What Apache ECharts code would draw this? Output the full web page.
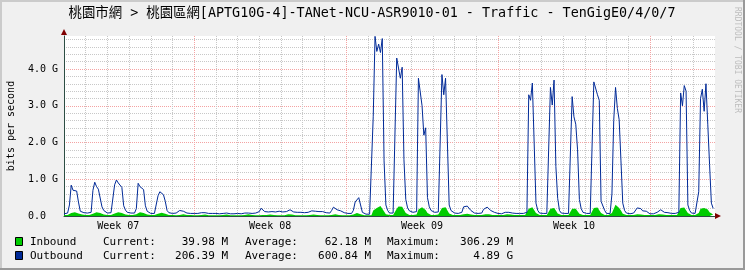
<!DOCTYPE html>
<html><head><meta charset="utf-8">
<script src="https://cdn.jsdelivr.net/npm/echarts@6/dist/echarts.min.js"></script>
<style>html,body{margin:0;padding:0;background:#F0F0F0}#c{width:745px;height:270px}</style>
</head><body><div id="c"></div><script>
// ---- chart text ----
const titleText = '桃園市網 > 桃園區網[APTG10G-4]-TANet-NCU-ASR9010-01 - Traffic - TenGigE0/4/0/7';
const yAxisName = 'bits per second';
const watermark = 'RRDTOOL / TOBI OETIKER';
// ---- x axis (hours from start of a 30-day window) ----
const weekLabels = ['Week 07', 'Week 08', 'Week 09', 'Week 10'];
const weekLabelHours = [60, 228, 396, 564];
const weekStartHours = [144, 312, 480, 648];
const stepHours = 2;
// ---- y axis (G bits/s) ----
const yMax = 4.9;
const yTickValues = [0, 1, 2, 3, 4];
const yTickLabels = ['0.0  ', '1.0 G', '2.0 G', '3.0 G', '4.0 G'];
// ---- series values, Gbit/s, one value per 2 hours, 12 per day ----
const inbound = [
  .03,.03,.03,.04,.08,.10,.10,.09,.07,.05,.04,.03,
  .03,.03,.03,.03,.06,.09,.10,.09,.08,.06,.04,.03,
  .03,.03,.03,.03,.07,.09,.10,.09,.08,.05,.04,.03,
  .03,.03,.03,.03,.05,.09,.10,.09,.08,.05,.04,.03,
  .03,.03,.03,.03,.06,.09,.09,.08,.06,.04,.03,.03,
  .03,.02,.02,.02,.03,.05,.05,.04,.03,.03,.03,.02,
  .02,.02,.02,.02,.03,.05,.04,.03,.02,.02,.02,.02,
  .02,.02,.02,.02,.03,.04,.04,.03,.02,.02,.02,.02,
  .02,.02,.02,.02,.03,.04,.05,.04,.03,.02,.02,.02,
  .02,.04,.03,.02,.03,.04,.04,.03,.03,.02,.02,.02,
  .02,.02,.02,.03,.05,.05,.04,.03,.02,.02,.02,.02,
  .02,.02,.02,.02,.03,.04,.04,.03,.03,.02,.02,.02,
  .02,.02,.02,.02,.03,.06,.05,.04,.03,.02,.02,.02,
  .02,.02,.02,.02,.04,.08,.08,.09,.05,.03,.02,.02,
  .02,.02,.02,.15,.20,.22,.25,.27,.25,.12,.05,.03,
  .03,.03,.03,.05,.20,.26,.28,.25,.20,.08,.05,.03,
  .03,.03,.03,.04,.18,.22,.24,.20,.16,.08,.04,.03,
  .03,.03,.03,.04,.06,.22,.26,.24,.20,.07,.04,.03,
  .03,.03,.03,.03,.04,.05,.06,.06,.05,.04,.03,.03,
  .03,.03,.03,.03,.04,.05,.05,.05,.04,.03,.03,.03,
  .03,.03,.03,.03,.04,.05,.04,.04,.03,.03,.03,.03,
  .03,.03,.03,.03,.05,.20,.25,.24,.22,.08,.04,.03,
  .03,.03,.03,.03,.05,.20,.24,.22,.15,.07,.04,.03,
  .03,.03,.03,.03,.05,.20,.22,.20,.15,.06,.04,.03,
  .03,.03,.03,.03,.05,.22,.25,.23,.20,.08,.05,.03,
  .03,.03,.03,.08,.20,.306,.28,.22,.15,.06,.04,.03,
  .03,.03,.03,.03,.04,.05,.05,.04,.04,.03,.03,.03,
  .03,.03,.03,.03,.04,.05,.05,.04,.03,.03,.03,.03,
  .03,.03,.03,.03,.05,.22,.25,.23,.22,.08,.04,.03,
  .03,.03,.03,.08,.20,.24,.22,.24,.18,.10,.06,.04
];
const outbound = [
  .06,.06,.08,.30,.84,.70,.70,.68,.38,.13,.10,.09,
  .09,.08,.08,.10,.70,.92,.80,.73,.68,.25,.15,.10,
  .08,.08,.09,.12,.85,.98,.90,.85,.78,.28,.16,.10,
  .08,.08,.07,.08,.20,.89,.80,.80,.72,.28,.13,.08,
  .07,.07,.07,.08,.55,.66,.62,.58,.40,.15,.09,.06,
  .07,.07,.08,.10,.15,.16,.13,.10,.08,.07,.07,.07,
  .07,.07,.07,.08,.09,.10,.09,.08,.07,.07,.07,.07,
  .07,.07,.06,.06,.07,.09,.08,.07,.06,.06,.06,.06,
  .07,.07,.06,.07,.08,.09,.08,.07,.07,.07,.08,.09,
  .12,.21,.18,.12,.12,.11,.12,.12,.12,.11,.12,.13,
  .12,.11,.10,.12,.16,.17,.14,.11,.10,.10,.10,.10,
  .10,.09,.10,.10,.12,.14,.14,.13,.12,.12,.11,.12,
  .10,.09,.07,.08,.15,.24,.22,.17,.15,.14,.12,.09,
  .07,.07,.06,.07,.15,.38,.40,.50,.30,.10,.06,.05,
  .05,.05,.06,2.70,4.89,4.48,4.68,4.45,4.83,1.50,.30,.15,
  .08,.07,.08,.12,4.30,4.28,3.75,4.05,1.53,.45,.22,.14,
  .10,.10,.09,.12,3.75,3.80,3.00,2.20,2.40,.50,.25,.15,
  .10,.10,.10,.11,.15,3.85,3.30,3.75,3.70,.30,.15,.12,
  .08,.07,.07,.07,.10,.25,.27,.27,.24,.15,.10,.08,
  .08,.07,.07,.08,.18,.23,.24,.22,.15,.12,.10,.06,
  .07,.07,.06,.07,.10,.14,.10,.08,.08,.07,.07,.07,
  .07,.07,.07,.07,.10,3.30,3.15,3.62,3.60,.35,.15,.08,
  .07,.07,.07,.07,.10,3.50,3.02,3.70,1.35,.48,.15,.08,
  .07,.07,.07,.07,.10,3.25,2.70,2.50,1.80,.45,.20,.10,
  .07,.07,.07,.07,.12,3.65,3.68,3.30,3.15,.40,.35,.15,
  .07,.07,.07,.60,2.60,3.50,2.93,2.62,1.50,.35,.15,.08,
  .07,.06,.06,.08,.13,.22,.25,.20,.14,.12,.13,.08,
  .06,.06,.06,.07,.10,.12,.17,.13,.10,.10,.09,.07,
  .07,.07,.07,.07,.10,3.35,3.00,3.55,3.40,.30,.15,.08,
  .07,.07,.07,.66,3.20,3.45,2.85,3.60,2.50,1.40,.35,.206
];
// ---- legend ----
const legendNames = ['Inbound', 'Outbound'];
const legendColors = ['#00CC00', '#002A97'];
const currentVals = ['39.98 M', '206.39 M'];
const averageVals = ['62.18 M', '600.84 M'];
const maximumVals = ['306.29 M', '4.89 G'];

const mono = '"DejaVu Sans Mono", "Noto Sans CJK TC", monospace';
const pairs = arr => arr.map((v, i) => [i * stepHours, v]);

const chart = echarts.init(document.getElementById('c'), null, {renderer: 'canvas', width: 745, height: 270});

const graphics = [
  // 3D frame
  {type: 'rect', shape: {x: 0, y: 0, width: 745, height: 2}, style: {fill: '#CBCBCB'}, silent: true},
  {type: 'rect', shape: {x: 0, y: 0, width: 2, height: 270}, style: {fill: '#CBCBCB'}, silent: true},
  {type: 'rect', shape: {x: 0, y: 268, width: 745, height: 2}, style: {fill: '#999999'}, silent: true},
  {type: 'rect', shape: {x: 743, y: 0, width: 2, height: 270}, style: {fill: '#999999'}, silent: true},
  {type: 'text', x: 372, y: 14, style: {text: titleText, font: '13.4px ' + mono, fill: '#000', align: 'center', verticalAlign: 'middle'}, silent: true},
  {type: 'text', x: 11, y: 126, rotation: Math.PI / 2, style: {text: yAxisName, font: '10px ' + mono, fill: '#000', align: 'center', verticalAlign: 'middle'}, silent: true},
  {type: 'text', x: 737, y: 60, rotation: -Math.PI / 2, style: {text: watermark, font: '8px ' + mono, fill: '#BDBDBD', align: 'center', verticalAlign: 'middle'}, silent: true},
  // axis arrows
  {type: 'polygon', shape: {points: [[61, 35], [67, 35], [64, 29]]}, style: {fill: '#7F0000'}, silent: true},
  {type: 'polygon', shape: {points: [[715, 213], [715, 219], [721, 216]]}, style: {fill: '#7F0000'}, silent: true}
];
legendNames.forEach((name, r) => {
  const yc = 242 + r * 14;
  graphics.push({type: 'rect', shape: {x: 15.5, y: yc - 4.5, width: 7, height: 8}, style: {fill: legendColors[r], stroke: '#000', lineWidth: 1}, silent: true});
  const t = (x, text, align) => graphics.push({type: 'text', x, y: yc, style: {text, font: '11px ' + mono, fill: '#000', align, verticalAlign: 'middle'}, silent: true});
  t(30, name, 'left');
  t(103, 'Current:', 'left');
  t(228, currentVals[r], 'right');
  t(245, 'Average:', 'left');
  t(371, averageVals[r], 'right');
  t(387, 'Maximum:', 'left');
  t(513, maximumVals[r], 'right');
});

const grayGrid = {color: '#C8C8C8', type: [1, 1], width: 1};
const redGrid = {color: '#F4A3A3', type: [1, 1], width: 1};

chart.setOption({
  backgroundColor: '#F0F0F0',
  animation: false,
  grid: {left: 64, right: 30, top: 36, bottom: 54, show: true, backgroundColor: '#FFFFFF', borderWidth: 0},
  xAxis: [
    {type: 'value', min: 0, max: 720, interval: 24, position: 'bottom',
     axisLine: {show: true, onZero: false, lineStyle: {color: '#2C4D43', width: 1}},
     axisTick: {show: false}, axisLabel: {show: false},
     splitLine: {show: true, showMinLine: false, showMaxLine: false, lineStyle: grayGrid}},
    {type: 'value', min: 0, max: 720, interval: 12, position: 'bottom',
     axisLine: {show: false}, axisTick: {show: false}, splitLine: {show: false},
     axisLabel: {show: true, margin: 5, fontFamily: mono, fontSize: 10, color: '#000',
       formatter: v => { const j = weekLabelHours.indexOf(Math.round(v)); return j >= 0 ? weekLabels[j] : ''; }}}
  ],
  yAxis: [
    {type: 'value', min: 0, max: yMax, interval: 0.2, position: 'left',
     axisLine: {show: true, onZero: false, lineStyle: {color: '#2C4D43', width: 1}},
     axisTick: {show: false}, axisLabel: {show: false},
     splitLine: {show: true, showMinLine: false, showMaxLine: false, lineStyle: grayGrid}},
    {type: 'value', min: 0, max: yMax, interval: 1, position: 'left',
     axisLine: {show: false}, axisTick: {show: false},
     splitLine: {show: true, showMinLine: false, showMaxLine: false, lineStyle: redGrid},
     axisLabel: {show: true, margin: 6, fontFamily: mono, fontSize: 10, color: '#000',
       formatter: v => { const j = yTickValues.findIndex(t => Math.abs(t - v) < 1e-6); return j >= 0 ? yTickLabels[j] : ''; }}}
  ],
  series: [
    {type: 'line', name: legendNames[0], xAxisIndex: 0, yAxisIndex: 0, data: pairs(inbound),
     symbol: 'none', showSymbol: false, lineStyle: {width: 0, color: legendColors[0]},
     areaStyle: {color: legendColors[0], opacity: 1}, z: 3,
     markLine: {silent: true, symbol: ['none', 'none'], label: {show: false}, z: 1, animation: false,
       lineStyle: redGrid, emphasis: {disabled: true},
       data: weekStartHours.map(h => [{coord: [h, yMax]}, {coord: [h, 0]}])}},
    {type: 'line', name: legendNames[1], xAxisIndex: 0, yAxisIndex: 0, data: pairs(outbound),
     symbol: 'none', showSymbol: false, lineStyle: {width: 1, color: legendColors[1]}, z: 4}
  ],
  graphic: graphics
});
</script></body></html>
